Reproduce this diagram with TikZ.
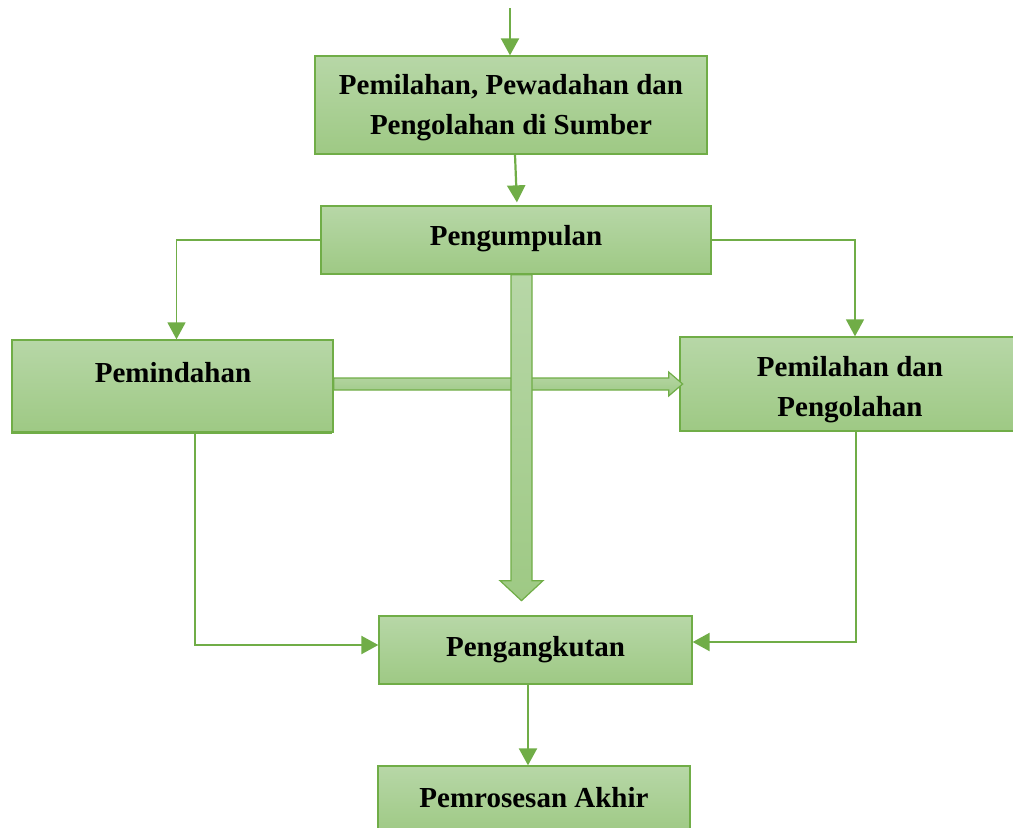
\documentclass[tikz,border=0pt]{standalone}
\usepackage{fontspec}
\setmainfont{Liberation Serif}
\usetikzlibrary{arrows.meta,calc,shadows}
\definecolor{gborder}{RGB}{112,173,71}
\definecolor{gtop}{RGB}{183,215,167}
\definecolor{gbot}{RGB}{158,201,132}
\tikzset{
  box/.style={draw=gborder, line width=1.3pt, top color=gtop, bottom color=gbot,
    inner sep=0pt, align=center, font=\fontsize{29}{40}\selectfont\bfseries},
  lbl/.style={inner sep=0pt, align=center, font=\fontsize{29}{40}\selectfont\bfseries},
  arr/.style={draw=gborder, line width=2.2pt, -{Triangle[length=17pt,width=18pt]}},
  arrthin/.style={draw=gborder, line width=1.6pt, -{Triangle[length=17pt,width=18pt]}},
  blk/.style={draw=gborder, line width=1.2pt, top color=gtop, bottom color=gbot, line join=miter}
}
\begin{document}
\begin{tikzpicture}[x=1pt,y=-1pt]
\useasboundingbox (0,0) rectangle (1013,828);
% boxes
\node[box, minimum width=392pt, minimum height=98pt] (b1) at (511,105) {};
\node[lbl] (t1) at (511,108) {Pemilahan, Pewadahan dan\\Pengolahan di Sumber};
\node[box, minimum width=390pt, minimum height=68pt] (b2) at (516,240) {};
\node[lbl] (t2) at (516,239) {Pengumpulan};
\node[box, minimum width=321pt, minimum height=92pt,
  general shadow={fill=gborder, shadow xshift=-1pt, shadow yshift=-2pt}] (b3) at (172.5,386) {};
\node[lbl] (t3) at (173,373) {Pemindahan};
\node[box, minimum width=340pt, minimum height=94pt] (b4) at (850,384) {};
\node[lbl] (t4) at (850,390) {Pemilahan dan\\Pengolahan};
\node[box, minimum width=313pt, minimum height=68pt] (b5) at (535.5,650) {};
\node[lbl] (t5) at (535.5,650) {Pengangkutan};
\node[box, minimum width=312pt, minimum height=68pt] (b6) at (534,800) {};
\node[lbl] (t6) at (534,798) {Pemrosesan Akhir};
% simple connectors
\coordinate (in) at (510,8);
\draw[arr] (in) -- (in |- b1.north);
\draw[arr, shorten >=3pt] ([xshift=4pt]b1.south) -- ([xshift=1pt]b2.north);
\draw[arrthin] (b2.west) -| ([xshift=4pt]b3.north);
\draw[arrthin] (b2.east) -| ([xshift=5pt]b4.north);
\draw[arr] ([xshift=22.5pt]b3.south) |- ([yshift=5pt]b5.west);
\draw[arr] ([xshift=6pt]b4.south) |- ([yshift=8pt]b5.east);
\draw[arr] ([xshift=-7.5pt]b5.south) -- ([xshift=-6pt]b6.north);
% horizontal block arrow
\draw[blk] ([yshift=8pt]b3.east) -- ++(335,0) -- ++(0,-6) -- ++(14,12) -- ++(-14,12)
  -- ++(0,-6) -- ++(-335,0) -- cycle;
% vertical block arrow
\coordinate (vt) at ([xshift=5.5pt]b2.south);
\draw[blk] ([xshift=-10.5pt]vt) -- ++(21,0) -- ++(0,306) -- ++(11,0) -- ++(-21.5,20)
  -- ++(-21.5,-20) -- ++(11,0) -- cycle;
\end{tikzpicture}
\end{document}
